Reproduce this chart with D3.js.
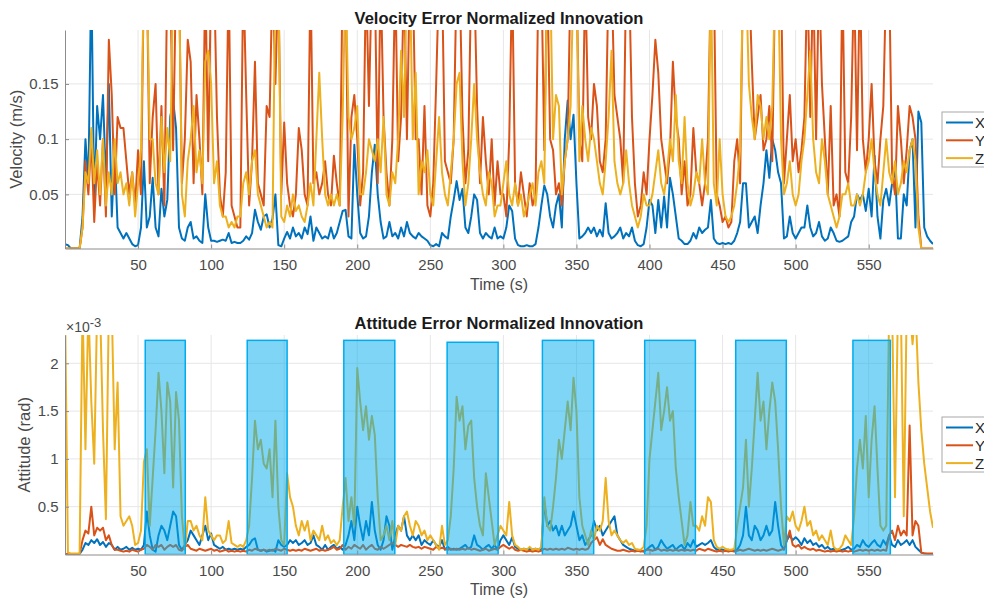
<!DOCTYPE html>
<html><head><meta charset="utf-8">
<script src="https://cdn.jsdelivr.net/npm/d3@7"></script>
<style>
body{margin:0;background:#fff;}
svg{display:block;font-family:"Liberation Sans",Arial,Helvetica,sans-serif;}
</style></head><body>
<svg id="chart" width="984" height="601"></svg>
<script>
// ---------------- DATA ----------------
const time = [
0,2,4,6,8,10,12,14,16,18,
20,22,24,26,28,30,32,34,36,38,
40,42,44,46,48,50,52,54,56,58,
60,62,64,66,68,70,72,74,76,78,
80,82,84,86,88,90,92,94,96,98,
100,102,104,106,108,110,112,114,116,118,
120,122,124,126,128,130,132,134,136,138,
140,142,144,146,148,150,152,154,156,158,
160,162,164,166,168,170,172,174,176,178,
180,182,184,186,188,190,192,194,196,198,
200,202,204,206,208,210,212,214,216,218,
220,222,224,226,228,230,232,234,236,238,
240,242,244,246,248,250,252,254,256,258,
260,262,264,266,268,270,272,274,276,278,
280,282,284,286,288,290,292,294,296,298,
300,302,304,306,308,310,312,314,316,318,
320,322,324,326,328,330,332,334,336,338,
340,342,344,346,348,350,352,354,356,358,
360,362,364,366,368,370,372,374,376,378,
380,382,384,386,388,390,392,394,396,398,
400,402,404,406,408,410,412,414,416,418,
420,422,424,426,428,430,432,434,436,438,
440,442,444,446,448,450,452,454,456,458,
460,462,464,466,468,470,472,474,476,478,
480,482,484,486,488,490,492,494,496,498,
500,502,504,506,508,510,512,514,516,518,
520,522,524,526,528,530,532,534,536,538,
540,542,544,546,548,550,552,554,556,558,
560,562,564,566,568,570,572,574,576,578,
580,582,584,586,588,590,592,594];

// Velocity error normalized innovation (m/s)
const velX = [
.005,.004,.001,.001,.001,.001,.03,.1,.06,.25,
.04,.13,.1,.14,.06,.15,.03,.09,.02,.015,
.01,.015,.01,.005,.003,.004,.02,.08,.02,.03,
.065,.02,.012,.055,.03,.045,.12,.135,.11,.02,
.01,.008,.02,.025,.01,.012,.008,.006,.05,.02,
.008,.008,.007,.008,.009,.008,.015,.006,.007,.006,
.006,.008,.012,.009,.015,.036,.025,.018,.03,.032,
.02,.028,.05,.004,.003,.01,.016,.01,.02,.012,
.015,.01,.02,.014,.03,.008,.02,.015,.01,.012,
.01,.02,.01,.015,.025,.035,.036,.012,.01,.095,
.05,.015,.01,.012,.03,.07,.095,.05,.025,.01,
.012,.025,.012,.015,.01,.02,.012,.025,.015,.012,
.01,.015,.012,.01,.008,.004,.003,.005,.003,.015,
.012,.01,.03,.045,.062,.045,.055,.02,.015,.03,
.05,.045,.015,.01,.015,.012,.01,.02,.01,.012,
.01,.02,.04,.035,.01,.004,.003,.003,.004,.003,
.003,.005,.02,.04,.058,.05,.03,.02,.04,.05,
.02,.1,.135,.1,.122,.06,.01,.012,.015,.02,
.015,.02,.012,.018,.012,.042,.015,.01,.012,.015,
.02,.01,.015,.012,.02,.008,.004,.003,.005,.02,
.045,.04,.015,.045,.02,.048,.02,.065,.05,.03,
.01,.008,.005,.005,.008,.015,.01,.02,.015,.018,
.02,.045,.01,.006,.005,.006,.005,.006,.005,.008,
.015,.025,.06,.06,.02,.025,.03,.015,.04,.06,
.09,.065,.1,.09,.07,.06,.01,.012,.03,.015,
.01,.015,.02,.02,.04,.02,.012,.015,.025,.012,
.008,.01,.02,.015,.008,.007,.008,.01,.012,.025,
.03,.05,.045,.05,.035,.055,.03,.085,.03,.01,
.045,.055,.04,.06,.075,.01,.01,.05,.04,.09,
.1,.02,.125,.115,.02,.012,.008,.005];

const velY = [
.001,.001,.001,.001,.001,.001,.02,.08,.05,.1,
.025,.08,.04,.1,.03,.19,.14,.05,.12,.11,
.11,.08,.05,.07,.04,.09,.05,.25,.25,.06,
.12,.15,.05,.13,.04,.25,.25,.09,.25,.25,
.06,.1,.19,.17,.06,.14,.1,.05,.25,.08,
.25,.25,.12,.05,.03,.07,.25,.04,.03,.02,
.02,.25,.14,.04,.08,.17,.06,.05,.04,.13,
.12,.25,.15,.25,.05,.115,.06,.04,.03,.05,
.11,.09,.05,.04,.25,.06,.07,.05,.06,.08,
.05,.04,.085,.06,.04,.25,.25,.03,.12,.14,
.1,.04,.07,.25,.13,.25,.25,.06,.25,.12,
.07,.04,.1,.25,.08,.12,.25,.1,.25,.25,
.1,.1,.05,.13,.04,.03,.06,.15,.25,.25,
.08,.07,.06,.1,.25,.25,.12,.06,.09,.25,
.25,.13,.06,.12,.08,.05,.1,.04,.08,.05,
.05,.03,.1,.25,.06,.04,.07,.05,.03,.06,
.04,.05,.25,.25,.09,.25,.1,.09,.05,.06,
.04,.08,.1,.25,.25,.25,.1,.08,.25,.12,
.1,.15,.13,.08,.07,.1,.25,.25,.14,.12,
.1,.06,.25,.25,.12,.06,.03,.04,.07,.05,
.1,.14,.19,.16,.1,.08,.06,.09,.17,.12,
.1,.05,.08,.04,.05,.11,.07,.06,.04,.06,
.1,.25,.25,.05,.04,.025,.03,.02,.025,.08,
.1,.06,.25,.25,.25,.17,.1,.12,.14,.09,
.1,.13,.08,.25,.25,.25,.06,.1,.14,.08,
.1,.07,.09,.12,.25,.12,.25,.1,.25,.15,
.1,.05,.13,.04,.05,.03,.25,.07,.06,.12,
.25,.09,.25,.1,.07,.1,.15,.08,.06,.1,
.13,.25,.25,.07,.05,.13,.1,.06,.09,.13,
.12,.1,.03,.001,.001,.001,.001,.001];

const velZ = [
.001,.001,.001,.001,.001,.001,.02,.07,.06,.11,
.06,.09,.05,.1,.04,.07,.05,.1,.06,.07,
.05,.06,.04,.07,.03,.06,.09,.25,.25,.1,
.1,.06,.05,.12,.07,.11,.08,.25,.25,.25,
.05,.03,.08,.1,.13,.07,.09,.06,.17,.18,
.15,.06,.08,.04,.03,.03,.02,.025,.02,.03,
.03,.06,.07,.05,.08,.09,.05,.04,.03,.02,
.025,.02,.25,.25,.03,.025,.04,.03,.05,.035,
.04,.03,.025,.04,.06,.04,.1,.16,.1,.05,
.04,.05,.04,.05,.04,.12,.25,.12,.1,.11,
.13,.05,.05,.07,.1,.09,.08,.1,.07,.12,
.05,.04,.07,.06,.1,.18,.12,.25,.25,.1,
.16,.05,.08,.07,.09,.05,.04,.08,.12,.07,
.05,.04,.07,.1,.15,.16,.08,.04,.06,.1,
.15,.1,.07,.05,.04,.07,.06,.03,.04,.04,
.06,.08,.05,.04,.06,.04,.05,.03,.04,.05,
.06,.04,.07,.08,.06,.25,.25,.1,.14,.13,
.05,.08,.1,.13,.25,.25,.08,.13,.1,.08,
.11,.1,.08,.06,.05,.08,.12,.18,.08,.06,
.05,.06,.09,.06,.04,.03,.02,.03,.05,.04,
.04,.05,.07,.09,.06,.05,.07,.1,.08,.14,
.08,.06,.12,.06,.04,.05,.07,.06,.1,.06,
.05,.25,.06,.04,.1,.05,.03,.025,.03,.04,
.06,.09,.25,.25,.15,.12,.1,.14,.13,.1,
.12,.1,.13,.25,.25,.1,.05,.06,.08,.05,
.04,.05,.08,.1,.14,.18,.1,.07,.06,.1,
.08,.05,.04,.03,.02,.03,.05,.05,.06,.04,
.04,.05,.04,.05,.07,.08,.1,.07,.05,.04,
.07,.1,.07,.06,.08,.05,.06,.08,.07,.09,
.1,.08,.02,.001,.001,.001,.001,.001];

// Attitude error normalized innovation (units of 1e-3 rad)
const attX = [
.005,.005,.005,.005,.005,.005,.05,.12,.1,.15,
.12,.16,.1,.13,.08,.12,.1,.05,.08,.05,
.06,.08,.05,.07,.05,.06,.05,.1,.45,.2,
.05,.03,.2,.3,.25,.15,.3,.45,.4,.1,
.05,.1,.15,.25,.2,.15,.1,.2,.3,.15,
.22,.1,.08,.06,.08,.05,.06,.05,.06,.05,
.06,.05,.08,.1,.15,.17,.05,.04,.05,.03,
.04,.05,.03,.15,.1,.08,.1,.15,.12,.15,
.1,.12,.15,.1,.12,.2,.1,.08,.05,.1,
.05,.08,.1,.06,.08,.05,.1,.2,.35,.15,
.5,.3,.15,.35,.2,.55,.25,.1,.05,.15,
.4,.3,.05,.2,.3,.25,.4,.2,.15,.2,
.15,.2,.1,.15,.12,.1,.15,.1,.08,.15,
.05,.08,.05,.06,.05,.06,.08,.1,.06,.08,
.2,.1,.08,.05,.08,.1,.06,.1,.05,.15,
.2,.15,.1,.18,.08,.06,.05,.06,.05,.06,
.05,.06,.05,.06,.55,.3,.35,.25,.3,.2,
.3,.2,.25,.3,.45,.3,.15,.2,.1,.15,
.2,.35,.25,.3,.2,.25,.3,.35,.4,.2,
.15,.1,.08,.06,.05,.04,.05,.04,.03,.05,
.08,.1,.05,.08,.15,.1,.06,.08,.1,.05,
.08,.1,.05,.12,.08,.15,.08,.1,.12,.1,
.12,.15,.08,.05,.06,.05,.04,.05,.04,.05,
.05,.1,.2,.5,.2,.15,.3,.25,.15,.2,
.3,.2,.25,.55,.3,.1,.05,.15,.2,.15,
.18,.15,.1,.17,.12,.15,.1,.12,.08,.1,
.06,.08,.05,.06,.05,.04,.05,.06,.08,.05,
.06,.1,.08,.15,.1,.08,.12,.15,.1,.08,
.15,.1,.2,.1,.08,.15,.1,.12,.15,.1,
.15,.08,.05,.02,.01,.005,.005,.005];

const attY = [
.005,.005,.005,.005,.005,.005,.15,.25,.22,.5,
.2,.28,.25,.28,.15,.2,.1,.05,.05,.04,
.03,.04,.03,.05,.04,.03,.05,.06,.1,.08,
.05,.1,.08,.1,.05,.08,.1,.08,.1,.05,
.04,.08,.1,.06,.05,.04,.06,.05,.04,.05,
.06,.04,.05,.03,.04,.05,.03,.04,.03,.04,
.03,.04,.03,.05,.04,.06,.05,.04,.05,.04,
.05,.04,.06,.05,.04,.06,.05,.04,.05,.04,
.05,.04,.06,.05,.04,.05,.06,.04,.05,.04,
.05,.06,.08,.05,.06,.1,.05,.08,.06,.1,
.08,.06,.1,.05,.08,.1,.06,.05,.08,.06,
.08,.1,.12,.1,.08,.1,.09,.08,.1,.08,
.07,.08,.06,.08,.07,.06,.05,.08,.06,.07,
.06,.05,.06,.05,.06,.05,.06,.05,.07,.05,
.06,.05,.04,.05,.06,.04,.05,.06,.05,.08,
.1,.08,.06,.08,.05,.04,.05,.04,.03,.04,
.03,.04,.03,.04,.06,.05,.06,.05,.06,.05,
.06,.05,.07,.06,.05,.06,.05,.06,.05,.06,
.12,.15,.18,.1,.16,.1,.08,.06,.05,.04,
.04,.05,.04,.03,.04,.03,.04,.03,.04,.05,
.05,.04,.05,.06,.04,.05,.04,.05,.04,.05,
.04,.05,.04,.05,.04,.05,.04,.06,.05,.04,
.06,.05,.04,.03,.04,.03,.04,.03,.04,.03,
.04,.05,.04,.05,.06,.05,.04,.05,.04,.05,
.04,.05,.06,.05,.04,.05,.06,.15,.25,.1,
.08,.1,.06,.08,.06,.05,.06,.04,.05,.04,
.03,.04,.03,.04,.03,.04,.03,.04,.03,.04,
.03,.04,.05,.04,.05,.04,.05,.04,.05,.04,
.05,.04,.2,.25,.15,.3,.2,.25,.2,1.35,
.2,.35,.3,.02,.01,.01,.01,.01];

const attZ = [
2.6,.02,.01,.01,.01,.01,2.6,1.1,2.6,1.6,
.95,2.6,2.6,1.3,.37,2.6,2.6,1.1,1.8,.4,
.3,.35,.4,.3,.1,.12,.25,.97,1.1,.3,
.8,1.3,1.9,1.5,.85,1.8,1.6,.7,1.7,1.4,
.4,.05,.35,.35,.25,.3,.2,.15,.6,.25,
.2,.15,.2,.2,.12,.15,.35,.12,.1,.08,
.1,.08,.15,.3,.8,1.4,1.1,1.2,.95,.9,
1.1,.6,1.4,.5,.15,.1,.85,.6,.5,.3,
.2,.35,.25,.35,.15,.25,.2,.15,.3,.15,
.2,.12,.15,.1,.15,.5,.8,.35,.6,.3,
1.95,1.6,1.3,1.55,1.2,1.45,1.25,.6,.15,.2,
.3,.15,.35,.1,.3,.25,.4,.45,.3,.2,
.35,.3,.2,.25,.15,.2,.15,.1,.05,.3,
.1,.15,.4,.9,1.65,1.4,1.55,1.1,1.35,1.4,
.8,.5,.3,.2,.85,.6,.35,.1,.2,.3,
.25,.2,.55,.2,.1,.08,.05,.06,.05,.08,
.05,.06,.05,.08,.6,.3,.25,.5,.8,1.2,
1.0,1.3,1.6,1.3,1.85,1.5,.6,.3,.2,.1,
.25,.15,.3,.25,.35,.8,.35,.2,.25,.2,
.15,.12,.15,.1,.12,.06,.05,.05,.08,.3,
1.0,1.3,1.6,1.9,1.3,1.5,1.75,1.4,1.5,.9,
.6,.35,.1,.2,.55,.3,.3,.25,.4,.3,
.6,.55,.15,.08,.06,.08,.06,.05,.05,.06,
.3,.5,.7,1.2,.5,.9,1.4,1.9,1.4,1.6,
1.1,1.5,1.8,1.6,1.1,.5,.1,.4,.35,.45,
.3,.25,.35,.5,.3,.35,.2,.25,.15,.2,
.15,.1,.25,.08,.05,.06,.1,.2,.15,.1,
.4,.9,1.2,.9,1.45,.6,1.2,1.55,.9,.3,
.25,.3,2.6,2.6,.6,2.6,2.6,.4,2.6,2.6,
2.2,2.6,1.8,1.3,.95,.7,.45,.28];

// Highlighted intervals (s) and their top value (1e-3 rad)
const bandStart = [54.9, 124.7, 190.8, 261.5, 326.7, 396.7, 459.0, 539.2];
const bandEnd   = [82.3, 152.0, 225.7, 296.4, 361.8, 431.4, 493.6, 564.8];
const bandTop   = [2.24, 2.24, 2.24, 2.22, 2.24, 2.24, 2.24, 2.24];

const seriesNames = ["X", "Y", "Z"];
const seriesColors = ["#0072BD", "#D95319", "#EDB120"];
const xTicks = [50,100,150,200,250,300,350,400,450,500,550];
const velTicks = [0.05, 0.1, 0.15];
const attTicks = [0.5, 1, 1.5, 2];

// ---------------- DRAW ----------------
const svg = d3.select("#chart");
svg.append("rect").attr("width", 984).attr("height", 601).attr("fill", "#fff");

function drawPanel(o) {
  const g = svg.append("g");
  const x = d3.scaleLinear().domain([0, 594]).range([o.left, o.right]);
  const y = d3.scaleLinear().domain(o.yDomain).range([o.bottom, o.top]);

  // grid
  g.append("g").selectAll("line").data(xTicks).join("line")
    .attr("x1", d => x(d)).attr("x2", d => x(d)).attr("y1", o.top).attr("y2", o.bottom)
    .attr("stroke", "#e6e6e6").attr("stroke-width", 1);
  g.append("g").selectAll("line").data(o.yTicks).join("line")
    .attr("x1", o.left).attr("x2", o.right).attr("y1", d => y(d)).attr("y2", d => y(d))
    .attr("stroke", "#e6e6e6").attr("stroke-width", 1);

  const clipId = "clip" + o.id;
  svg.append("defs").append("clipPath").attr("id", clipId)
    .append("rect").attr("x", o.left).attr("y", o.top)
    .attr("width", o.right - o.left).attr("height", o.bottom - o.top);

  const plot = g.append("g").attr("clip-path", `url(#${clipId})`);
  const line = d3.line().x((d, i) => x(time[i])).y(d => y(d));
  o.series.forEach((s, k) => {
    plot.append("path").datum(s).attr("d", line)
      .attr("fill", "none").attr("stroke", seriesColors[k])
      .attr("stroke-width", 2).attr("stroke-linejoin", "round");
  });

  if (o.bands) {
    bandStart.forEach((b, i) => {
      plot.append("rect")
        .attr("x", x(b)).attr("width", x(bandEnd[i]) - x(b))
        .attr("y", y(bandTop[i])).attr("height", y(0) - y(bandTop[i]))
        .attr("fill", "rgb(0,172,238)").attr("fill-opacity", 0.5)
        .attr("stroke", "rgb(0,172,238)").attr("stroke-width", 1.5);
    });
  }

  // axes
  const xa = g.append("g").attr("transform", `translate(0,${o.bottom})`)
    .call(d3.axisBottom(x).tickValues(xTicks).tickSize(-4).tickSizeOuter(0).tickPadding(11).tickFormat(d3.format("d")));
  const ya = g.append("g").attr("transform", `translate(${o.left},0)`)
    .call(d3.axisLeft(y).tickValues(o.yTicks).tickSize(-4).tickSizeOuter(0).tickPadding(6.5).tickFormat(d => String(d)));
  [xa, ya].forEach(a => {
    a.select(".domain").attr("stroke", "#8c8c8c").attr("stroke-width", 1);
    a.selectAll(".tick line").attr("stroke", "#8c8c8c");
    a.selectAll(".tick text").attr("fill", "#4a4a4a").style("font-size", "15px")
      .style("font-family", '"Liberation Sans", Arial, sans-serif');
  });

  // title & labels
  svg.append("text").attr("x", (o.left + o.right) / 2).attr("y", o.titleY)
    .attr("text-anchor", "middle").attr("font-weight", "bold").attr("font-size", 16.5)
    .attr("fill", "#1a1a1a").text(o.title);
  svg.append("text").attr("x", (o.left + o.right) / 2).attr("y", o.xLabelY)
    .attr("text-anchor", "middle").attr("font-size", 16).attr("fill", "#4a4a4a").text("Time (s)");
  svg.append("text").attr("transform", `translate(${o.yLabelX},${(o.top + o.bottom) / 2}) rotate(-90)`)
    .attr("text-anchor", "middle").attr("font-size", 16.5).attr("fill", "#4a4a4a").text(o.yLabel);

  // legend
  const lg = svg.append("g").attr("transform", `translate(942,${o.legendY})`);
  lg.append("rect").attr("x", 0).attr("y", 0).attr("width", 60).attr("height", 55)
    .attr("fill", "#fff").attr("stroke", "#a8a8a8").attr("stroke-width", 1);
  seriesNames.forEach((n, k) => {
    const yy = 10.5 + k * 17.8;
    lg.append("line").attr("x1", 4).attr("x2", 31).attr("y1", yy).attr("y2", yy)
      .attr("stroke", seriesColors[k]).attr("stroke-width", 2);
    lg.append("text").attr("x", 33).attr("y", yy + 5.5).attr("font-size", 15)
      .attr("fill", "#262626").text(n);
  });
  return {x, y};
}

drawPanel({
  id: "vel", left: 65, right: 933, top: 30, bottom: 248.5,
  yDomain: [0.001, 0.1988], yTicks: velTicks,
  series: [velX, velY, velZ],
  title: "Velocity Error Normalized Innovation", titleY: 23.5,
  xLabelY: 290, yLabel: "Velocity (m/s)", yLabelX: 21.5, legendY: 112
});

drawPanel({
  id: "att", left: 65, right: 933, top: 335, bottom: 554.5,
  yDomain: [0, 2.296], yTicks: attTicks,
  series: [attX, attY, attZ], bands: true,
  title: "Attitude Error Normalized Innovation", titleY: 329,
  xLabelY: 595, yLabel: "Attitude (rad)", yLabelX: 29.8, legendY: 417
});

// exponent label for the attitude axis
const ex = svg.append("text").attr("x", 66).attr("y", 332).attr("font-size", 14).attr("fill", "#4a4a4a");
ex.append("tspan").text("\u00d710");
ex.append("tspan").attr("dy", -5).attr("font-size", 13).text("-3");
</script>
</body></html>
